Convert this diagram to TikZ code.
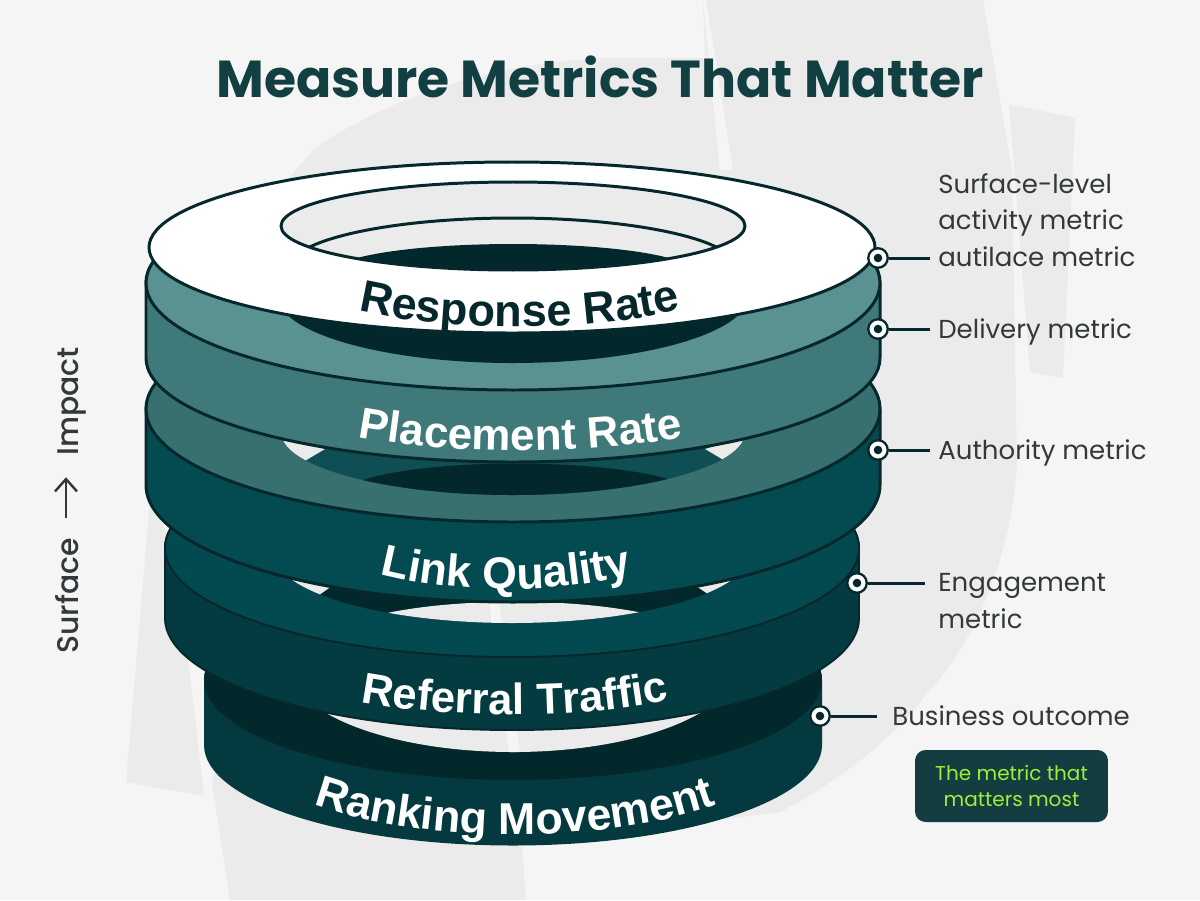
\documentclass[tikz,border=0pt]{standalone}
\usepackage{fontspec}
\setmainfont{Poppins}
\newfontfamily\ringfont{Liberation Sans}
\newfontfamily\sidefont{Poppins Medium}
\usetikzlibrary{decorations.text,arrows.meta}

\definecolor{paper}{HTML}{F5F5F5}
\definecolor{greyback}{HTML}{EBEBEB}
\definecolor{ink}{HTML}{06272B}
\definecolor{titleink}{HTML}{123F42}
\definecolor{labelink}{HTML}{33393B}
\definecolor{limegreen}{HTML}{9BF03A}
\definecolor{noteteal}{HTML}{133D40}
\definecolor{faceB}{HTML}{5A9191}
\definecolor{wallB}{HTML}{40797A}
\definecolor{faceC}{HTML}{37706F}
\definecolor{wallC}{HTML}{034B51}
\definecolor{midC}{HTML}{0F4F53}
\definecolor{faceD}{HTML}{034A50}
\definecolor{wallD}{HTML}{043B40}
\definecolor{faceE}{HTML}{03282C}
\definecolor{wallE}{HTML}{043A3F}

\tikzset{
  rim/.style={draw=ink,line width=1.7pt,line join=round},
  softrim/.style={draw=ink,line width=1.1pt,line join=round},
  ringlabel/.style 2 args={decorate,decoration={text along path,text align=center,
      text={|\fontsize{#1}{#1}\ringfont\bfseries\color{white}|#2}}},
  toplabel/.style={decorate,decoration={text along path,text align=center,
      text={|\fontsize{25.6}{25.6}\ringfont\bfseries\color{ink}|#1}}},
  calldot/.style={circle,draw=ink,fill=white,line width=1.3pt,minimum size=0.39cm,inner sep=0pt,
      path picture={\fill[ink] (path picture bounding box.center) circle (4.3);}},
  leader/.style={draw=ink,line width=1.7pt},
  metric/.style={anchor=base west,inner sep=0pt,text=labelink,align=left,
      font=\fontsize{14.8}{20.5}\selectfont},
  sidelabel/.style={rotate=90,inner sep=0pt,text=labelink,font=\fontsize{17}{17}\sidefont},
  sidearrow/.style={draw=labelink,line width=1.4pt,-{Straight Barb[length=7pt,width=12.5pt]},
      shorten <=11.4pt,shorten >=12pt}
}

\begin{document}
\begin{tikzpicture}[x=0.02cm,y=-0.02cm]
  \useasboundingbox (0,0) rectangle (1200,900);
  \fill[paper] (0,0) rectangle (1200,900);

  % grey mark behind the stack
  \fill[greyback] (705,58) -- (703,0) -- (983,0) -- (1012,170) -- (1017,467)
     .. controls (1010,560) and (975,640) .. (930,690)
     .. controls (895,735) and (850,775) .. (780,812)
     -- (522,846) -- (526,900) -- (230,900) -- (212,783) -- (300,400) -- (270,200) -- (313,150)
     .. controls (358,118) and (455,65) .. (608,58) -- cycle;
  \fill[greyback] (150,500) -- (126,782) -- (204,796) -- (188,657) -- (200,600) -- cycle;
  \fill[greyback] (1009,104) -- (1075,118) -- (1063,378) -- (1030,372) -- cycle;
  \fill[paper] (703,0) -- (706,0) -- (733,170) -- (720,170) -- cycle;

  % ring five
  \fill[wallE] (204,680) -- (204,745) arc[start angle=180,end angle=0,x radius=309,y radius=100.5]
     -- (822,680) arc[start angle=0,end angle=-180,x radius=309,y radius=100] -- cycle;
  \fill[faceE] (513,680) ellipse[x radius=309,y radius=100];
  \fill[greyback] (513,664) ellipse[x radius=225,y radius=88];
  \fill[paper] (487,600) -- (497,600) -- (520,752) -- (509,752) -- cycle;

  % ring four
  \path[softrim,fill=wallD] (165,548) -- (165,618) arc[start angle=180,end angle=0,x radius=347,y radius=112]
     -- (859,548) arc[start angle=0,end angle=-180,x radius=347,y radius=109] -- cycle;
  \path[softrim,fill=faceD] (512,548) ellipse[x radius=347,y radius=109];
  \fill[faceE] (512,553) ellipse[x radius=238,y radius=70];
  \begin{scope}
    \clip (512,553) ellipse[x radius=238,y radius=70];
    \fill[greyback] (387,613) .. controls (460,598) and (570,598) .. (643,613)
       .. controls (570,628) and (460,628) .. cycle;
    \fill[paper] (489,600) -- (499,600) -- (502,625) -- (492,625) -- cycle;
    \fill[greyback] (280,570) -- (332,586) -- (312,600) -- (280,600) -- cycle;
    \fill[greyback] (744,570) -- (696,586) -- (717,600) -- (744,600) -- cycle;
  \end{scope}

  % ring three
  \path[rim,fill=wallC] (146,410) -- (146,485) arc[start angle=180,end angle=0,x radius=367,y radius=117]
     -- (880,410) arc[start angle=0,end angle=-180,x radius=367,y radius=113] -- cycle;
  \path[rim,fill=faceC] (513,409) ellipse[x radius=367,y radius=113];
  \fill[midC] (513,432) ellipse[x radius=232,y radius=63];
  \begin{scope}
    \clip (513,432) ellipse[x radius=232,y radius=63];
    \fill[faceE] (363,480) .. controls (430,458) and (600,458) .. (672,480)
       .. controls (600,502) and (430,502) .. cycle;
    \fill[greyback] (275,435) -- (325,449) -- (303,462) -- (275,462) -- cycle;
    \fill[greyback] (751,435) -- (705,449) -- (727,462) -- (751,462) -- cycle;
  \end{scope}

  % ring two
  \path[rim,fill=wallB] (146,283) -- (146,358) arc[start angle=180,end angle=0,x radius=367,y radius=104]
     -- (880,283) arc[start angle=0,end angle=-180,x radius=367,y radius=107] -- cycle;
  \path[rim,fill=faceB] (513,283) ellipse[x radius=367,y radius=107];
  \fill[faceE] (513,295) ellipse[x radius=236,y radius=68];

  % top ring
  \path[rim,fill=white] (512,247.5) ellipse[x radius=363,y radius=85.5];
  \fill[greyback] (513,226) ellipse[x radius=232,y radius=44];
  \begin{scope}
    \clip (513,226) ellipse[x radius=232,y radius=44];
    \path[rim,fill=greyback] (513,268) ellipse[x radius=224,y radius=50];
    \fill[faceE] (513,272) ellipse[x radius=180,y radius=28];
  \end{scope}
  \path[rim] (513,226) ellipse[x radius=232,y radius=44];

  % texts on the rings
  \path[toplabel={Response Rate}] (322,300) .. controls (420,336) and (620,336) .. (717,298);
  \path[ringlabel={25}{Placement Rate}] (321,428) .. controls (420,458) and (620,458) .. (720,428);
  \path[ringlabel={25.4}{Link Quality}] (343,562) .. controls (430,598) and (585,598) .. (669,562);
  \path[ringlabel={24.8}{Referral Traffic}] (324,693) .. controls (420,722) and (610,722) .. (706,691);
  \path[ringlabel={25.4}{Ranking Movement}] (275,787) .. controls (385,850) and (645,850) .. (755,787);

  \node[anchor=base,inner sep=0pt,text=titleink,font=\fontsize{29.6}{32}\selectfont\bfseries] (title) at (600,97) {Measure Metrics That Matter};

  % side axis
  \node[sidelabel,anchor=base west] (sideSurface) at (78,654) {Surface};
  \node[sidelabel,anchor=base east] (sideImpact) at (78,347) {Impact};
  \coordinate (sideAxis) at (66,0);
  \draw[sidearrow] (sideSurface.east -| sideAxis) -- (sideImpact.west -| sideAxis);

  % callouts
  \node[calldot] (dotResponse) at (878,258) {};
  \node[calldot] (dotPlacement) at (878,329) {};
  \node[calldot] (dotLink) at (878,450) {};
  \node[calldot] (dotReferral) at (857,583) {};
  \node[calldot] (dotRanking) at (820,716) {};

  \coordinate (endResponse) at (930,258);
  \coordinate (endPlacement) at (930,329);
  \coordinate (endLink) at (930,450);
  \coordinate (endReferral) at (925,583);
  \coordinate (endRanking) at (877,716);

  \draw[leader] (dotResponse) -- (endResponse);
  \draw[leader] (dotPlacement) -- (endPlacement);
  \draw[leader] (dotLink) -- (endLink);
  \draw[leader] (dotReferral) -- (endReferral);
  \draw[leader] (dotRanking) -- (endRanking);

  \node[metric] (txtResponse) at (938,266) {Surface-level\\activity metric\\autilace metric};
  \node[metric] (txtPlacement) at (938,338) {Delivery metric};
  \node[metric] (txtLink) at (938,459) {Authority metric};
  \node[metric] (txtReferral) at (938,628) {Engagement\\metric};
  \node[metric] (txtRanking) at (892,725) {Business outcome};

  \node[fill=noteteal,rounded corners=6pt,minimum width=3.86cm,minimum height=1.44cm,inner sep=0pt,
     text=limegreen,align=center,font=\fontsize{11.4}{14.8}\selectfont] (noteBox) at (1011.5,786) {The metric that\\matters most};
\end{tikzpicture}
\end{document}
